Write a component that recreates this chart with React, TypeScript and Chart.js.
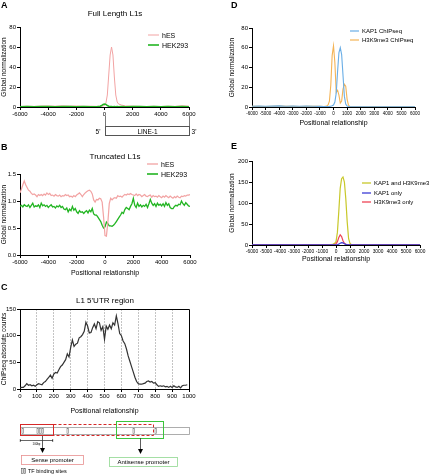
import React, { useEffect, useRef } from "react";
import { Chart, registerables } from "chart.js";

Chart.register(...registerables);

const FONT = 'Arial, "Liberation Sans", Helvetica, sans-serif';

// ---------------- Panel A: Full Length L1s ----------------
const A_X = [-6000, -5500, -5000, -4500, -4000, -3500, -3000, -2500, -2000, -1500, -1000, -500, -300, -200, -100, 0, 100, 200, 300, 400, 500, 600, 700, 800, 900, 1000, 1200, 1500, 2000, 2500, 3000, 3500, 4000, 4500, 5000, 5500, 6000];
const A_HES = [0.5, 0.8, 0.6, 0.9, 1.0, 0.8, 1.1, 0.9, 1.0, 0.7, 0.8, 0.6, 0.7, 0.8, 1.0, 1.5, 4, 12, 32, 52, 60, 52, 30, 12, 5, 3, 2, 1, 0.8, 0.6, 0.5, 0.7, 0.5, 0.8, 0.6, 1.2, 0.8];
const A_HEK293 = [0.3, 0.4, 0.3, 0.5, 0.4, 0.3, 0.4, 0.5, 0.3, 0.4, 0.3, 0.5, 0.8, 1.5, 2.5, 3, 2.5, 1.5, 0.8, 0.5, 0.4, 0.3, 0.4, 0.3, 0.4, 0.3, 0.4, 0.3, 0.5, 0.4, 0.3, 0.4, 0.3, 0.4, 0.3, 0.4, 0.3];
const A_X_RANGE = [-6000, 6000, 2000];
const A_Y_RANGE = [0, 80, 20];

// ---------------- Panel B: Truncated L1s ----------------
const B_X = Array.from({ length: 121 }, (_, i) => -6000 + i * 100);
const B_HES = [
  1.15, 1.22, 1.30, 1.37, 1.30, 1.25, 1.20, 1.18, 1.14, 1.12,
  1.13, 1.11, 1.08, 1.12, 1.10, 1.12, 1.10, 1.13, 1.11, 1.15,
  1.12, 1.14, 1.10, 1.11, 1.09, 1.12, 1.10, 1.09, 1.11, 1.08,
  1.10, 1.09, 1.12, 1.10, 1.11, 1.08, 1.09, 1.07, 1.10, 1.08,
  1.11, 1.13, 1.15, 1.12, 1.08, 1.12, 1.15, 1.17, 1.19, 1.20,
  1.18, 1.13, 1.02, 0.98, 1.03, 1.02, 1.05, 1.04, 0.98, 0.70,
  0.36, 0.35, 0.60, 0.95, 1.05, 1.02, 1.05, 1.06, 1.05, 1.10,
  1.08, 1.09, 1.07, 1.10, 1.12, 1.11, 1.13, 1.12, 1.14, 1.12,
  1.11, 1.10, 1.13, 1.10, 1.12, 1.11, 1.08, 1.10, 1.12, 1.09,
  1.08, 1.10, 1.11, 1.07, 1.10, 1.08, 1.09, 1.07, 1.10, 1.08,
  1.06, 1.09, 1.07, 1.10, 1.08, 1.06, 1.09, 1.07, 1.05, 1.08,
  1.06, 1.09, 1.07, 1.06, 1.09, 1.08, 1.10, 1.09, 1.11, 1.11,
  1.12,
];
const B_HEK293 = [
  0.90, 0.92, 0.89, 0.93, 0.91, 0.90, 0.93, 0.88, 0.92, 0.96,
  0.89, 0.91, 0.90, 0.93, 0.88, 0.96, 0.91, 0.93, 0.90, 0.92,
  0.88, 0.91, 0.93, 0.89, 0.90, 0.87, 0.91, 0.89, 0.92, 0.88,
  0.90, 0.85, 0.84, 0.87, 0.80, 0.85, 0.82, 0.90, 0.83, 0.86,
  0.80, 0.77, 0.82, 0.79, 0.80, 0.77, 0.80, 0.82, 0.78, 0.83,
  0.80, 0.86, 0.76, 0.74, 0.74, 0.70, 0.66, 0.62, 0.55, 0.50,
  0.52, 0.61, 0.58, 0.54, 0.54, 0.53, 0.55, 0.58, 0.62, 0.66,
  0.70, 0.74, 0.79, 0.77, 0.84, 0.88, 0.86, 0.84, 0.90, 0.95,
  1.05, 0.92, 0.88, 0.96, 0.90, 0.93, 0.89, 0.92, 0.90, 0.94,
  0.88, 0.95, 1.03, 0.96, 0.92, 0.95, 0.90, 0.96, 0.92, 0.94,
  0.91, 0.95, 0.90, 0.97, 0.92, 0.95, 0.88, 0.86, 0.86, 0.90,
  0.92, 0.91, 0.94, 0.93, 1.00, 0.95, 0.92, 0.97, 0.94, 0.91,
  0.90,
];
const B_X_RANGE = [-6000, 6000, 2000];
const B_Y_RANGE = [0, 1.5, 0.5];

// ---------------- Panel C: L1 5'UTR region ----------------
const C_X = Array.from({ length: 100 }, (_, i) => i * 10);
const C_COUNTS = [
  2, 3, 3, 6, 10, 7, 8, 6, 7, 5,
  8, 10, 9, 8, 12, 14, 18, 22, 26, 20,
  28, 31, 30, 36, 42, 45, 50, 55, 66, 60,
  78, 92, 80, 84, 86, 96, 98, 102, 108, 125,
  118, 105, 106, 115, 122, 113, 126, 124, 110, 117,
  93, 118, 112, 120, 113, 124, 120, 137, 122, 104,
  100, 90, 85, 75, 62, 52, 42, 32, 22, 14,
  10, 9, 9, 10, 11, 14, 15, 13, 14, 11,
  12, 8, 5, 6, 5, 6, 4, 5, 3, 5,
  3, 6, 4, 3, 5, 2, 6, 7, 7, 8,
];
const C_X_RANGE = [0, 1000, 100];
const C_Y_RANGE = [0, 150, 50];
const C_TF_SITES = [22, 37, 39.5, 42, 67, 133, 155];

// ---------------- Panel D ----------------
const D_X = [-6000, -5500, -5000, -4500, -4000, -3500, -3000, -2500, -2000, -1500, -1000, -700, -500, -400, -300, -200, -100, 0, 100, 200, 300, 400, 500, 600, 700, 800, 900, 1000, 1100, 1200, 1500, 2000, 2500, 3000, 3500, 4000, 4500, 5000, 5500, 6000];
const D_KAP1 = [0.8, 1.0, 0.7, 0.9, 1.1, 0.8, 1.0, 0.7, 0.9, 0.8, 0.6, 0.5, 0.5, 0.5, 0.6, 0.8, 1.2, 2, 5, 14, 36, 55, 60, 53, 32, 11, 3, 1, 0.5, 0.3, 0.3, 0.2, 0.3, 0.2, 0.3, 0.2, 0.3, 0.2, 0.3, 0.3];
const D_H3K9ME3 = [0.6, 0.8, 0.5, 0.7, 0.9, 0.6, 0.8, 0.5, 0.7, 0.6, 0.8, 0.5, 1, 2, 6, 22, 52, 62, 45, 15, 17, 12, 4, 6, 18, 23, 21, 8, 2, 0.5, 0.3, 0.2, 0.3, 0.5, 0.2, 0.3, 0.2, 0.3, 0.2, 0.3];
const D_X_RANGE = [-6000, 6000, 1000];
const D_Y_RANGE = [0, 80, 20];

// ---------------- Panel E ----------------
const E_X = D_X;
const E_BOTH = [0.5, 0.8, 0.6, 0.7, 0.9, 0.6, 0.8, 0.5, 0.7, 0.6, 0.8, 0.6, 0.8, 1, 1.5, 2.5, 4, 8, 30, 80, 135, 158, 162, 150, 110, 55, 15, 4, 1, 0.5, 0.4, 0.3, 0.4, 0.3, 0.4, 0.3, 0.4, 0.3, 0.4, 0.3];
const E_KAP1_ONLY = [0.3, 0.3, 0.3, 0.3, 0.3, 0.3, 0.3, 0.3, 0.3, 0.3, 0.3, 0.3, 0.3, 0.3, 0.3, 0.3, 0.3, 0.5, 1, 2, 4, 5.5, 5, 3, 1.5, 0.8, 0.3, 0.3, 0.3, 0.3, 0.3, 0.3, 0.3, 0.3, 0.3, 0.3, 0.3, 0.3, 0.3, 0.3];
const E_H3K9ME3_ONLY = [0.4, 0.4, 0.4, 0.4, 0.4, 0.4, 0.4, 0.4, 0.4, 0.4, 0.4, 0.4, 0.4, 0.4, 0.4, 0.5, 1, 3, 8, 18, 24, 20, 10, 4, 1.5, 0.8, 0.4, 0.4, 0.4, 0.4, 0.4, 0.4, 0.4, 0.4, 0.4, 0.4, 0.4, 0.4, 0.4, 0.4];
const E_X_RANGE = [-6000, 6000, 1000];
const E_Y_RANGE = [0, 200, 50];

// ---------------- colours ----------------
const PINK = "#f2a3a3";
const GREEN = "#22b522";
const BLUE_D = "#6aaee6";
const ORANGE_D = "#f4b456";
const YELLOW_E = "#c8c82a";
const BLUE_E = "#3b3bd6";
const RED_E = "#ee4455";

type Box = { cx: number; cy: number; cw: number; ch: number; L: number; T: number; R: number; B: number };
type Series = { label: string; x: number[]; y: number[]; color: string; width: number };

interface PanelOpts {
  box: Box;
  series: Series[];
  xRange: number[];
  yRange: number[];
  tick: number;
  yTick: number;
  xTitle?: string;
  yTitle: string;
  titleSize: number;
  yFmt?: (v: number) => string;
  xGrid?: boolean;
  frame?: boolean;
}

function makeConfig(o: PanelOpts): any {
  const { box } = o;
  const plugins: any[] = [];
  if (o.frame) {
    plugins.push({
      id: "frame",
      afterDraw(chart: any) {
        const a = chart.chartArea;
        const ctx = chart.ctx;
        ctx.save();
        ctx.strokeStyle = "#000";
        ctx.lineWidth = 1;
        ctx.beginPath();
        ctx.moveTo(Math.round(a.left), Math.round(a.top) + 0.5);
        ctx.lineTo(Math.round(a.right) + 0.5, Math.round(a.top) + 0.5);
        ctx.lineTo(Math.round(a.right) + 0.5, Math.round(a.bottom));
        ctx.stroke();
        ctx.restore();
      },
    });
  }
  const xEnds = [o.xRange[0], o.xRange[1]];
  return {
    type: "line",
    data: {
      datasets: o.series.map((s) => ({
        label: s.label,
        data: s.x.map((x, i) => ({ x, y: s.y[i] })),
        borderColor: s.color,
        backgroundColor: s.color,
        borderWidth: s.width,
        pointRadius: 0,
        tension: 0,
        fill: false,
      })),
    },
    options: {
      responsive: false,
      animation: false,
      devicePixelRatio: 1,
      layout: { padding: { left: 0, top: box.T - box.cy, right: box.cx + box.cw - box.R, bottom: 0 } },
      plugins: { legend: { display: false }, tooltip: { enabled: false }, title: { display: false } },
      scales: {
        x: {
          type: "linear",
          min: o.xRange[0],
          max: o.xRange[1],
          ticks: {
            stepSize: o.xRange[2],
            autoSkip: false,
            maxRotation: 0,
            minRotation: 0,
            font: { size: o.tick, family: FONT },
            color: "#000",
            padding: 1,
            callback: (v: any) => String(v),
          },
          grid: {
            drawOnChartArea: !!o.xGrid,
            drawTicks: true,
            tickLength: 3,
            tickColor: "#000",
            color: (ctx: any) =>
              ctx.tick && xEnds.indexOf(ctx.tick.value) < 0 ? "#c4c4c4" : "rgba(0,0,0,0)",
            lineWidth: 1,
          },
          border: { color: "#000", width: 1, dash: o.xGrid ? [2, 1] : [] },
          title: {
            display: !!o.xTitle,
            text: o.xTitle || "",
            font: { size: o.titleSize, family: FONT },
            color: "#000",
            padding: { top: 0, bottom: 1 },
          },
          afterFit: (s: any) => {
            s.height = box.cy + box.ch - box.B;
            s.paddingLeft = 0;
            s.paddingRight = 0;
          },
        },
        y: {
          type: "linear",
          min: o.yRange[0],
          max: o.yRange[1],
          ticks: {
            stepSize: o.yRange[2],
            font: { size: o.yTick, family: FONT },
            color: "#000",
            padding: 1,
            callback: (v: any) => (o.yFmt ? o.yFmt(Number(v)) : String(v)),
          },
          grid: { drawOnChartArea: false, drawTicks: true, tickLength: 3, tickColor: "#000", color: "#000" },
          border: { color: "#000", width: 1 },
          title: {
            display: true,
            text: o.yTitle,
            font: { size: o.titleSize - 0.5, family: FONT },
            color: "#000",
            padding: { top: 0, bottom: 0 },
          },
          afterFit: (s: any) => {
            s.width = box.L - box.cx;
            s.paddingTop = 0;
            s.paddingBottom = 0;
          },
        },
      },
    },
    plugins,
  };
}

function Panel({ opts }: { opts: PanelOpts }) {
  const ref = useRef<HTMLCanvasElement>(null);
  useEffect(() => {
    const chart = new Chart(ref.current as HTMLCanvasElement, makeConfig(opts));
    return () => chart.destroy();
  }, []);
  const b = opts.box;
  return (
    <div style={{ position: "absolute", left: b.cx, top: b.cy, width: b.cw, height: b.ch }}>
      <canvas ref={ref} width={b.cw} height={b.ch} style={{ width: b.cw, height: b.ch, display: "block" }} />
    </div>
  );
}

const panelA: PanelOpts = {
  box: { cx: 0, cy: 18, cw: 205, ch: 104, L: 20, T: 27, R: 189, B: 107 },
  series: [
    { label: "HEK293", x: A_X, y: A_HEK293, color: GREEN, width: 1.5 },
    { label: "hES", x: A_X, y: A_HES, color: PINK, width: 1 },
  ],
  xRange: A_X_RANGE,
  yRange: A_Y_RANGE,
  tick: 6,
  yTick: 6,
  yTitle: "Global normalization",
  titleSize: 7,
};

const panelB: PanelOpts = {
  box: { cx: 0, cy: 165, cw: 205, ch: 113, L: 20, T: 174, R: 190, B: 255 },
  series: [
    { label: "hES", x: B_X, y: B_HES, color: PINK, width: 1.2 },
    { label: "HEK293", x: B_X, y: B_HEK293, color: GREEN, width: 1.3 },
  ],
  xRange: B_X_RANGE,
  yRange: B_Y_RANGE,
  tick: 6,
  yTick: 6,
  xTitle: "Positional relationship",
  yTitle: "Global normalization",
  titleSize: 7,
  yFmt: (v) => v.toFixed(1),
};

const panelC: PanelOpts = {
  box: { cx: 0, cy: 300, cw: 205, ch: 116, L: 20, T: 309, R: 189, B: 389 },
  series: [{ label: "ChIPseq", x: C_X, y: C_COUNTS, color: "#333333", width: 1.2 }],
  xRange: C_X_RANGE,
  yRange: C_Y_RANGE,
  tick: 6,
  yTick: 6,
  xTitle: "Positional relationship",
  yTitle: "ChIPseq absolute counts",
  titleSize: 7,
  xGrid: true,
  frame: true,
};

const panelD: PanelOpts = {
  box: { cx: 228, cy: 18, cw: 200, ch: 110, L: 252, T: 28, R: 415, B: 107 },
  series: [
    { label: "KAP1 ChIPseq", x: D_X, y: D_KAP1, color: BLUE_D, width: 1.1 },
    { label: "H3K9me3 ChIPseq", x: D_X, y: D_H3K9ME3, color: ORANGE_D, width: 1.1 },
  ],
  xRange: D_X_RANGE,
  yRange: D_Y_RANGE,
  tick: 4.5,
  yTick: 6,
  xTitle: "Positional relationship",
  yTitle: "Global normalization",
  titleSize: 7,
};

const panelE: PanelOpts = {
  box: { cx: 228, cy: 152, cw: 206, ch: 112, L: 252, T: 161, R: 420, B: 245 },
  series: [
    { label: "KAP1 only", x: E_X, y: E_KAP1_ONLY, color: BLUE_E, width: 1.2 },
    { label: "H3K9me3 only", x: E_X, y: E_H3K9ME3_ONLY, color: RED_E, width: 1.2 },
    { label: "KAP1 and H3K9me3", x: E_X, y: E_BOTH, color: YELLOW_E, width: 1.2 },
  ],
  xRange: E_X_RANGE,
  yRange: E_Y_RANGE,
  tick: 4.8,
  yTick: 6,
  xTitle: "Positional relationship",
  yTitle: "Global normalization",
  titleSize: 7,
};

function LegendItem({ x, y, color, text, size, w = 11, lw = 1.2, gap = 3 }: any) {
  return (
    <g>
      <line x1={x} x2={x + w} y1={y} y2={y} stroke={color} strokeWidth={lw} />
      <text x={x + w + gap} y={y} fontSize={size} dominantBaseline="central" fill="#000">
        {text}
      </text>
    </g>
  );
}

export default function App() {
  return (
    <div
      style={{
        position: "fixed",
        left: 0,
        top: 0,
        width: 434,
        height: 475,
        background: "#fff",
        fontFamily: FONT,
        overflow: "hidden",
      }}
    >
      <Panel opts={panelA} />
      <Panel opts={panelB} />
      <Panel opts={panelC} />
      <Panel opts={panelD} />
      <Panel opts={panelE} />
      <svg
        width={434}
        height={475}
        style={{ position: "absolute", left: 0, top: 0, pointerEvents: "none" }}
        fontFamily={FONT}
      >
        {/* Panel letters */}
        <text x={1} y={5} fontSize={9} fontWeight="bold" dominantBaseline="central">A</text>
        <text x={1} y={147} fontSize={9} fontWeight="bold" dominantBaseline="central">B</text>
        <text x={1} y={287} fontSize={9} fontWeight="bold" dominantBaseline="central">C</text>
        <text x={231} y={5} fontSize={9} fontWeight="bold" dominantBaseline="central">D</text>
        <text x={231} y={146} fontSize={9} fontWeight="bold" dominantBaseline="central">E</text>

        {/* Titles */}
        <text x={115} y={13} fontSize={8} textAnchor="middle" dominantBaseline="central">Full Length L1s</text>
        <text x={115} y={156} fontSize={8} textAnchor="middle" dominantBaseline="central">Truncated L1s</text>
        <text x={105} y={300} fontSize={8} textAnchor="middle" dominantBaseline="central">L1 5'UTR region</text>

        {/* Legend A */}
        <LegendItem x={148} y={35} color={PINK} text="hES" size={7} lw={1} />
        <LegendItem x={148} y={45} color={GREEN} text="HEK293" size={7} lw={1.6} />

        {/* Legend B */}
        <LegendItem x={147} y={164} color={PINK} text="hES" size={7} lw={1.3} />
        <LegendItem x={147} y={174} color={GREEN} text="HEK293" size={7} lw={1.6} />

        {/* Legend D */}
        <LegendItem x={350} y={31} color={BLUE_D} text="KAP1 ChIPseq" size={6} w={9} lw={1.2} />
        <LegendItem x={350} y={40} color={ORANGE_D} text="H3K9me3 ChIPseq" size={6} w={9} lw={1.2} />

        {/* Legend E */}
        <LegendItem x={362} y={183} color={YELLOW_E} text="KAP1 and H3K9me3" size={6} w={9} lw={1.3} gap={3} />
        <LegendItem x={362} y={193} color={BLUE_E} text="KAP1 only" size={6} w={9} lw={1.3} gap={3} />
        <LegendItem x={362} y={202} color={RED_E} text="H3K9me3 only" size={6} w={9} lw={1.3} gap={3} />

        {/* LINE-1 schematic under A */}
        <line x1={105.5} x2={105.5} y1={116} y2={126} stroke="#555" strokeWidth={0.8} />
        <line x1={189.5} x2={189.5} y1={116} y2={126} stroke="#555" strokeWidth={0.8} />
        <rect x={105.5} y={126.5} width={84} height={9} fill="none" stroke="#555" strokeWidth={1} />
        <text x={147.5} y={131.5} fontSize={6.5} textAnchor="middle" dominantBaseline="central">LINE-1</text>
        <text x={98} y={131.5} fontSize={6.5} textAnchor="middle" dominantBaseline="central">5'</text>
        <text x={194} y={131.5} fontSize={6.5} textAnchor="middle" dominantBaseline="central">3'</text>

        {/* 5'UTR schematic under C */}
        <rect x={20.5} y={427.5} width={169} height={7} fill="none" stroke="#999" strokeWidth={0.8} />
        {C_TF_SITES.map((x, i) => (
          <rect key={i} x={x} y={428.5} width={1.6} height={5} fill="none" stroke="#777" strokeWidth={0.6} />
        ))}
        <rect x={20.5} y={424.5} width={33} height={11} fill="none" stroke="#d62828" strokeWidth={1} />
        <rect x={53.5} y={424.5} width={100} height={11} fill="none" stroke="#d62828" strokeWidth={1} strokeDasharray="3,2" />
        <rect x={116.5} y={421.5} width={47} height={17} fill="none" stroke="#3cc43c" strokeWidth={1} />
        <line x1={20} x2={53} y1={440.5} y2={440.5} stroke="#000" strokeWidth={0.6} />
        <line x1={20.3} x2={20.3} y1={439} y2={442} stroke="#000" strokeWidth={0.6} />
        <line x1={52.7} x2={52.7} y1={439} y2={442} stroke="#000" strokeWidth={0.6} />
        <text x={36.5} y={443.5} fontSize={2.8} textAnchor="middle" dominantBaseline="central">100bp</text>
        <line x1={42.5} x2={42.5} y1={436} y2={449} stroke="#333" strokeWidth={0.8} />
        <polygon points="40,448 45,448 42.5,453" fill="#000" />
        <line x1={140.5} x2={140.5} y1={438} y2={450} stroke="#333" strokeWidth={0.8} />
        <polygon points="138,449 143,449 140.5,454" fill="#000" />
        <rect x={21.5} y={455.5} width={62} height={9} fill="none" stroke="#e89090" strokeWidth={0.8} />
        <text x={52.5} y={460} fontSize={6} textAnchor="middle" dominantBaseline="central">Sense promoter</text>
        <rect x={109.5} y={457.5} width={68} height={9} fill="none" stroke="#90d890" strokeWidth={0.8} />
        <text x={143.5} y={462} fontSize={6} textAnchor="middle" dominantBaseline="central">Antisense promoter</text>
        <rect x={21.5} y={468.5} width={1.6} height={5} fill="none" stroke="#555" strokeWidth={0.6} />
        <rect x={24} y={468.5} width={1.6} height={5} fill="none" stroke="#555" strokeWidth={0.6} />
        <text x={28} y={471} fontSize={5.5} dominantBaseline="central">TF binding sites</text>
      </svg>
    </div>
  );
}
